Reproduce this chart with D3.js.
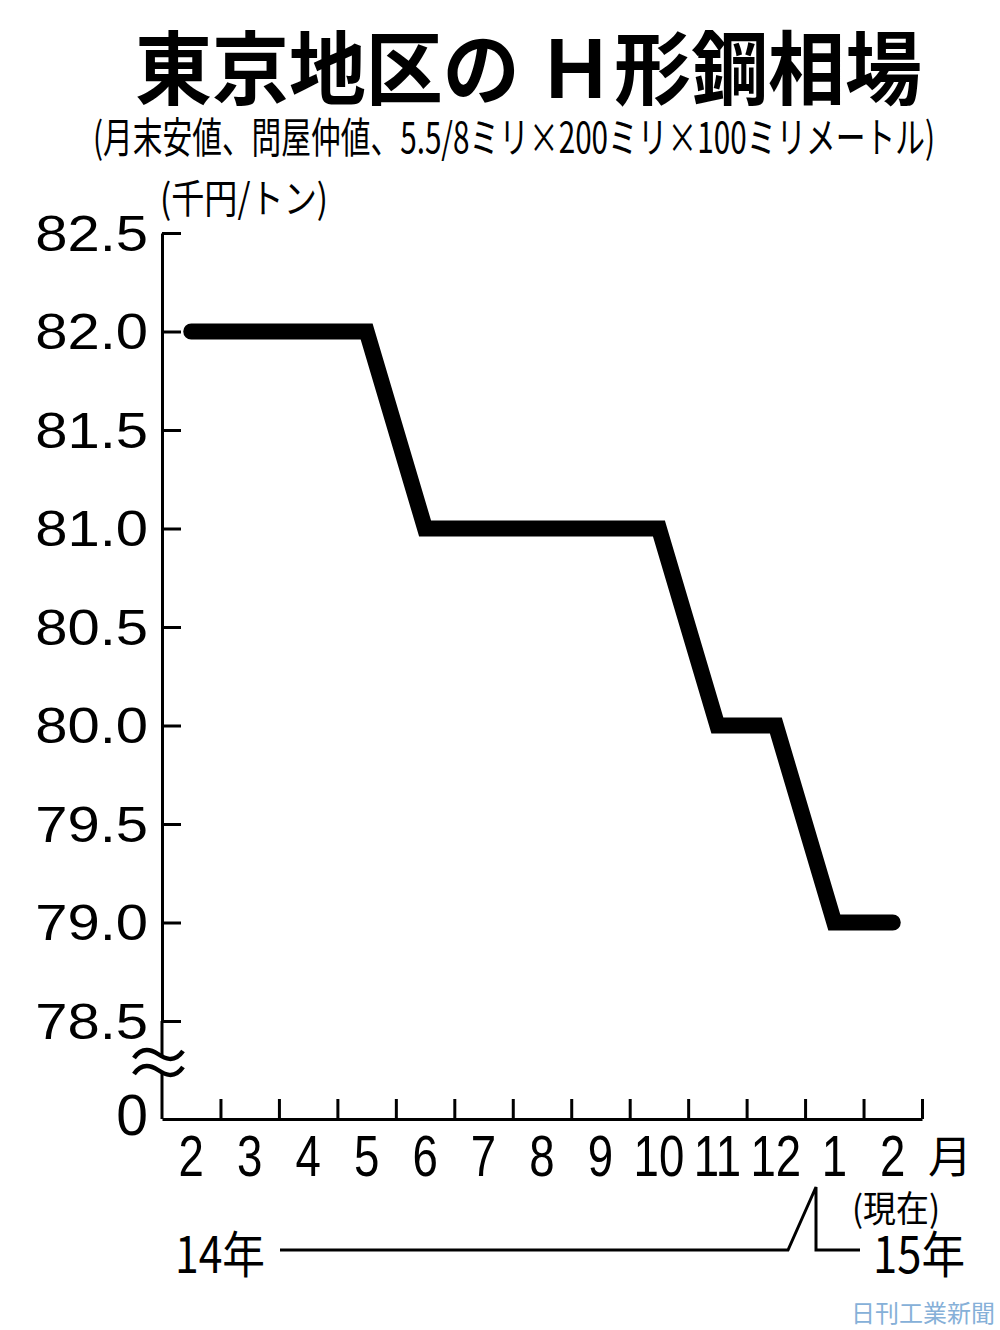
<!DOCTYPE html>
<html>
<head>
<meta charset="utf-8">
<script src="https://cdn.jsdelivr.net/npm/d3@7"></script>
<style>
  body { margin: 0; background: #fff; }
  text { fill: #000; }
</style>
</head>
<body>
<svg id="chart" width="1000" height="1330"></svg>
<script>
// data
var months = ["2", "3", "4", "5", "6", "7", "8", "9", "10", "11", "12", "1", "2"];
var prices = [82, 82, 82, 82, 81, 81, 81, 81, 81, 80, 80, 79, 79];
var yTicks = [78.5, 79.0, 79.5, 80.0, 80.5, 81.0, 81.5, 82.0, 82.5];

var JP = "'Noto Sans CJK JP', sans-serif";
var NUM = "'Liberation Sans', Arial, Helvetica, sans-serif";

var svg = d3.select("#chart");

var plotLeft = 162, plotRight = 922, plotTop = 233, plotBottom = 1021, axisY = 1119;

var x = d3.scalePoint().domain(d3.range(months.length)).range([plotLeft, plotRight]).padding(0.5);
var xb = d3.scaleLinear().domain([0, months.length]).range([plotLeft, plotRight]);
var y = d3.scaleLinear().domain([78.5, 82.5]).range([plotBottom, plotTop]);

// title
svg.append("text").attr("font-family", JP)
    .attr("x", 135).attr("y", 98)
    .attr("font-size", 80).attr("font-weight", 700)
    .attr("textLength", 787).attr("lengthAdjust", "spacingAndGlyphs")
    .text("東京地区の Ｈ形鋼相場");

svg.append("text").attr("font-family", JP)
    .attr("x", 93).attr("y", 153)
    .attr("font-size", 42)
    .attr("textLength", 842).attr("lengthAdjust", "spacingAndGlyphs")
    .text("(月末安値、問屋仲値、5.5/8ミリ×200ミリ×100ミリメートル)");

svg.append("text").attr("font-family", JP)
    .attr("x", 160).attr("y", 213)
    .attr("font-size", 40)
    .attr("textLength", 168).attr("lengthAdjust", "spacingAndGlyphs")
    .text("(千円/トン)");

// y axis
var sx = 1.16;
var yAxis = d3.axisLeft(y).tickValues(yTicks).tickSizeInner(-19).tickSizeOuter(0)
    .tickPadding(14).tickFormat(d3.format(".1f"));
var gy = svg.append("g").attr("transform", "translate(" + plotLeft + ",0)").call(yAxis);
gy.select(".domain").attr("stroke", "#000").attr("stroke-width", 3);
gy.selectAll(".tick line").attr("stroke", "#000").attr("stroke-width", 3);
gy.selectAll(".tick text")
    .attr("font-family", NUM)
    .attr("font-size", 50)
    .attr("fill", "#000")
    .attr("dy", "0.34em")
    .attr("transform", "scale(" + sx + ",1)")
    .attr("x", -14 / sx);

// axis continuation past the break
svg.append("line").attr("x1", plotLeft).attr("x2", plotLeft).attr("y1", plotBottom).attr("y2", 1056)
    .attr("stroke", "#000").attr("stroke-width", 3);
svg.append("line").attr("x1", plotLeft).attr("x2", plotLeft).attr("y1", 1072).attr("y2", axisY)
    .attr("stroke", "#000").attr("stroke-width", 3);

// break mark
[0, 16].forEach(function (o) {
  svg.append("path")
      .attr("d", "M134," + (1058 + o) + " C142," + (1046 + o) + " 152," + (1050 + o) + " 158," + (1054 + o) +
                 " S174," + (1064 + o) + " 183," + (1051 + o))
      .attr("fill", "none").attr("stroke", "#000").attr("stroke-width", 4.5);
});

svg.append("text").attr("font-family", NUM)
    .attr("x", 148).attr("y", 1135)
    .attr("font-size", 57).attr("text-anchor", "end")
    .text("0");

// x axis
var xAxis = d3.axisTop(xb).tickValues(d3.range(1, months.length + 1))
    .tickSizeInner(20).tickSizeOuter(0).tickFormat("");
var gx = svg.append("g").attr("transform", "translate(0," + axisY + ")").call(xAxis);
gx.select(".domain").attr("stroke", "#000").attr("stroke-width", 3);
gx.selectAll(".tick line").attr("stroke", "#000").attr("stroke-width", 3);

svg.append("g").selectAll("text").data(months).enter().append("text")
    .attr("font-family", NUM)
    .attr("transform", function (d, i) { return "translate(" + x(i) + ",1176) scale(0.8,1)"; })
    .attr("font-size", 57).attr("text-anchor", "middle")
    .text(function (d) { return d; });

svg.append("text").attr("font-family", JP)
    .attr("x", 928).attr("y", 1173).attr("font-size", 44)
    .text("月");

svg.append("text").attr("font-family", JP)
    .attr("x", 852).attr("y", 1222).attr("font-size", 36)
    .attr("textLength", 88).attr("lengthAdjust", "spacingAndGlyphs")
    .text("(現在)");

// year labels
svg.append("text").attr("font-family", JP)
    .attr("x", 175).attr("y", 1273).attr("font-size", 50)
    .attr("textLength", 90).attr("lengthAdjust", "spacingAndGlyphs")
    .text("14年");
svg.append("text").attr("font-family", JP)
    .attr("x", 873).attr("y", 1273).attr("font-size", 50)
    .attr("textLength", 92).attr("lengthAdjust", "spacingAndGlyphs")
    .text("15年");

svg.append("path")
    .attr("d", "M280,1250 H788 L816,1187 V1250 H860")
    .attr("fill", "none").attr("stroke", "#000").attr("stroke-width", 3);

// price line
var line = d3.line().x(function (d, i) { return x(i); }).y(function (d) { return y(d); });
svg.append("path").datum(prices)
    .attr("d", line)
    .attr("fill", "none").attr("stroke", "#000")
    .attr("stroke-width", 16).attr("stroke-linecap", "round").attr("stroke-linejoin", "miter");

// credit
svg.append("text").attr("font-family", JP)
    .attr("x", 995).attr("y", 1322).attr("font-size", 24)
    .attr("text-anchor", "end").style("fill", "#86b0d8")
    .text("日刊工業新聞");
</script>
</body>
</html>
